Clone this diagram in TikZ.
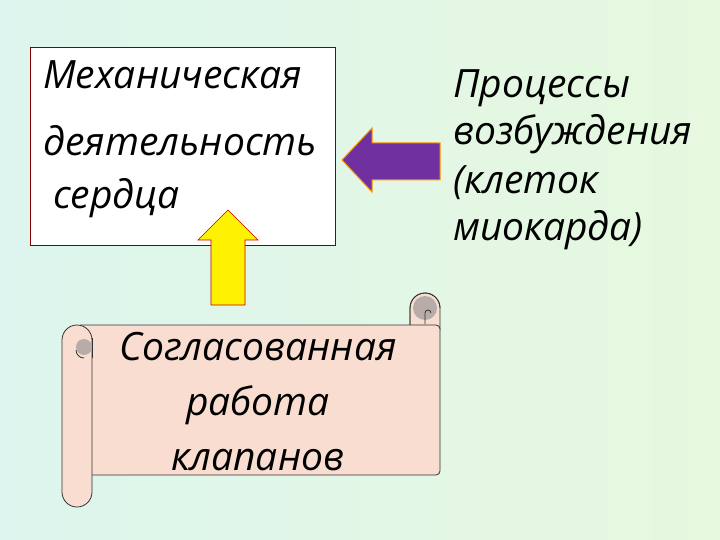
\documentclass[tikz,border=0pt]{standalone}
\usepackage{fontspec}
\setmainfont{Open Sans}
\begin{document}
\begin{tikzpicture}[x=1pt,y=-1pt,
  txt/.style={font=\itshape\fontsize{39}{40}\selectfont, inner sep=0pt},
  scr/.style={draw=black!80, line width=0.8pt, fill=scrollc}]
\definecolor{scrollc}{HTML}{F9DDD0}
\definecolor{curlc}{HTML}{B8ACA8}
\definecolor{purp}{HTML}{7030A0}
\definecolor{bgl}{HTML}{DDF5EE}
\definecolor{bgr}{HTML}{E6F8DE}
\useasboundingbox (0,0) rectangle (720,540);
\shade[left color=bgl, right color=bgr] (0,0) rectangle (720,540);
% box
\node[draw=red!50!black, line width=0.5pt, fill=white, minimum width=305, minimum height=198, anchor=north west] (box) at (30,47) {};
\node[txt, anchor=west] (t1) at (43,75) {Механическая};
\node[txt, anchor=west] (t2) at (43,141) {деятельность};
\node[txt, anchor=west] (t3) at (53,198) {сердца};
% purple arrow
\draw[fill=purp, draw=orange!80!yellow, line width=1pt] (342,160) -- (372,128) -- (372,143) -- (440,143) -- (440,180) -- (372,180) -- (372,192) -- cycle;
% yellow arrow
\draw[fill=yellow, draw=red!80!black, line width=0.7pt] (228,210) -- (258,240) -- (245,240) -- (245,305) -- (211,305) -- (211,240) -- (198,240) -- cycle;
% right text
\node[txt, anchor=west] (r1) at (453,88) {Процессы};
\node[txt, anchor=west] (r2) at (453,134) {возбуждения};
\node[txt, anchor=west] (r3) at (453,183) {(клеток};
\node[txt, anchor=west] (r4) at (453,230) {миокарда)};
% scroll
\draw[scr] (410,330) -- (410,308) arc (180:360:15) -- (440,330);
\fill[curlc] (425,308) circle (12);
\draw[black!80, line width=0.8pt] (410,325) -- (410,308) arc (180:360:15);
\draw[black!80, line width=0.8pt] (425,324) -- (425,313) arc (180:360:3);
\draw[scr, rounded corners=4] (77,325) -- (440,325) -- (440,475) -- (77,475) -- cycle;
\draw[scr] (62,340) arc (180:360:15) -- (92,492) arc (0:180:15) -- cycle;
\fill[curlc] (84,347) circle (8);
\draw[black!80, line width=0.8pt] (92,338) -- (92,358);
\draw[black!80, line width=0.8pt] (76,350) arc (180:90:8);
\node[txt, align=center, font=\itshape\fontsize{39}{55}\selectfont] (s) at (258,402) {Согласованная\\работа\\клапанов};
\end{tikzpicture}
\end{document}
